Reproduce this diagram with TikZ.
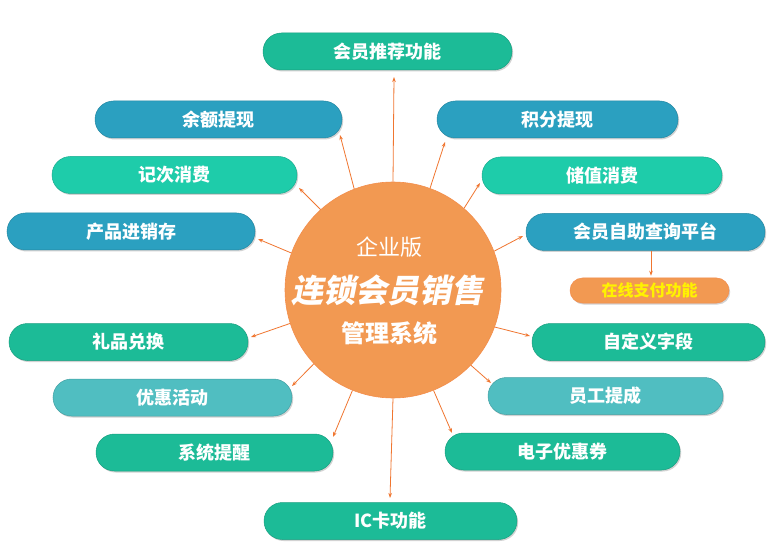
\documentclass[tikz,border=0pt]{standalone}
\usepackage{fontspec}
\setmainfont{Noto Sans CJK SC}
\newfontfamily\cjkslant{Noto Sans CJK SC}[FakeSlant=0.2]
\usetikzlibrary{arrows.meta,shadows}
\definecolor{cGreen}{RGB}{28,187,151}
\definecolor{cBlue}{RGB}{43,160,192}
\definecolor{cLight}{RGB}{30,204,170}
\definecolor{cTeal}{RGB}{80,190,193}
\definecolor{cOrange}{RGB}{242,153,82}
\definecolor{cArrow}{RGB}{240,118,48}
\definecolor{cYellow}{RGB}{255,242,0}
\begin{document}
\begin{tikzpicture}[x=1pt,y=-1pt,
  pill/.style={rectangle, rounded corners=18.5pt, minimum height=37pt, inner sep=0pt,
    text=white, font=\bfseries\fontsize{18}{18}\selectfont,
    drop shadow={shadow xshift=1.2pt, shadow yshift=-1.5pt, opacity=0.25, fill=black!70}},
  green/.style={pill, fill=cGreen, draw=cGreen!85!black, line width=0.5pt},
  blue/.style={pill, fill=cBlue, draw=cBlue!85!black, line width=0.5pt},
  light/.style={pill, fill=cLight, draw=cLight!85!black, line width=0.5pt},
  teal/.style={pill, fill=cTeal, draw=cTeal!85!black, line width=0.5pt},
  arr/.style={draw=cArrow, line width=0.8pt, -{Stealth[length=5pt,width=3.6pt]}},
  ctext/.style={text=white, inner sep=0pt}
]
\useasboundingbox (0,0) rectangle (776,545);
\fill[white] (0,0) rectangle (776,545);

% centre circle
\node[circle, fill=cOrange, draw=cOrange!92!red, line width=0.6pt, minimum size=216pt, inner sep=0pt] (c) at (393,290) {};
\node[ctext, font=\fontsize{22}{22}\selectfont] (t1) at (389,247) {企业版};
\node[ctext, font=\cjkslant\bfseries\fontsize{32}{32}\selectfont] (t2) at (387,290) {连锁会员销售};
\node[ctext, font=\bfseries\fontsize{24}{24}\selectfont] (t3) at (389,333) {管理系统};

% boxes
\node[green, minimum width=249pt] (b1) at (387.5,51.5) {会员推荐功能};
\node[blue, minimum width=247pt] (b2) at (218.5,119.5) {余额提现};
\node[blue, minimum width=241pt] (b3) at (557.5,119.5) {积分提现};
\node[light, minimum width=245pt] (b4) at (174.5,175) {记次消费};
\node[light, minimum width=240pt] (b5) at (602,175.5) {储值消费};
\node[blue, minimum width=248pt] (b6) at (131,231.5) {产品进销存};
\node[blue, minimum width=239pt] (b7) at (645.5,232) {会员自助查询平台};
\node[pill, fill=cOrange, draw=cOrange!90!red, line width=0.5pt, rounded corners=12.5pt,
  minimum height=25pt, minimum width=159pt, text=cYellow,
  font=\bfseries\fontsize{16}{16}\selectfont] (b8) at (649.5,290.5) {在线支付功能};
\node[green, minimum width=239pt] (b9) at (128.5,342) {礼品兑换};
\node[green, minimum width=233pt] (b10) at (648.5,342) {自定义字段};
\node[teal, minimum width=239pt] (b11) at (172.5,397.5) {优惠活动};
\node[teal, minimum width=235pt] (b12) at (605.5,396) {员工提成};
\node[green, minimum width=237pt] (b13) at (214.5,452.5) {系统提醒};
\node[green, minimum width=235pt] (b14) at (562.5,451.5) {电子优惠券};
\node[green, minimum width=253pt] (b15) at (390.5,521) {IC卡功能};

% arrow end points
\coordinate (e1) at (394,77);
\coordinate (e2) at (340,135);
\coordinate (e3) at (445,142);
\coordinate (e4) at (299,188);
\coordinate (e5) at (480,183);
\coordinate (e6) at (258,239);
\coordinate (e7) at (523,236);
\coordinate (e9) at (251,337);
\coordinate (e10) at (530,336);
\coordinate (e11) at (292,386);
\coordinate (e12) at (491,383);
\coordinate (e13) at (333,437);
\coordinate (e14) at (452,433);
\coordinate (e15) at (390,498);
\coordinate (e8) at (b7.south -| b8.north);

\draw[arr] (c.90) -- (e1);
\draw[arr] (c.111) -- (e2);
\draw[arr] (c.70) -- (e3);
\draw[arr] (c.132) -- (e4);
\draw[arr] (c.49) -- (e5);
\draw[arr] (c.160) -- (e6);
\draw[arr] (c.21) -- (e7);
\draw[arr] (c.198) -- (e9);
\draw[arr] (c.340) -- (e10);
\draw[arr] (c.223) -- (e11);
\draw[arr] (c.316) -- (e12);
\draw[arr] (c.248) -- (e13);
\draw[arr] (c.292) -- (e14);
\draw[arr] (c.270) -- (e15);
\draw[arr] ([xshift=1.5pt]e8) -- ([xshift=1.5pt,yshift=2pt]b8.north);
\end{tikzpicture}
\end{document}
